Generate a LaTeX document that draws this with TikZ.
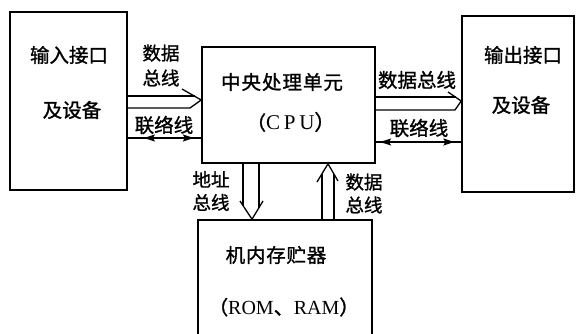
\documentclass[tikz,border=0pt]{standalone}
\usepackage{fontspec}
\setmainfont{Liberation Serif}
\newfontfamily\cjk[FakeBold=1.2]{Noto Sans CJK SC}
\usetikzlibrary{arrows.meta,calc}
\begin{document}
\begin{tikzpicture}[x=1pt,y=-1pt,
  box/.style={draw, line width=1.6pt, inner sep=0pt},
  lab/.style={font=\cjk\fontsize{19.5}{25}\selectfont, align=center, inner sep=0pt},
  bus/.style={line width=1.3pt, line join=miter},
  ctl/.style={line width=1.3pt},
  tip/.style={line width=1.3pt, -{Stealth[length=11pt,width=7pt,inset=2pt]}}]
\clip (0,0) rectangle (576,334);
% boxes
\node[box, minimum width=117pt, minimum height=178pt] (L) at (68.5,101) {};
\node[box, minimum width=173pt, minimum height=116pt] (C) at (288.5,105) {};
\node[box, minimum width=112pt, minimum height=176pt] (R) at (518,104) {};
\node[box, minimum width=174pt, minimum height=140pt] (M) at (285,290) {};
% box texts
\node[lab] (tL1) at (69,55) {输入接口};
\node[lab] (tL2) at (72,110) {及设备};
\node[lab] (tC1) at (282,82) {\addfontfeature{LetterSpace=5}中央处理单元};
\node[lab] (tC2) at (291,122) {（\rmfamily\fontsize{21}{25}\selectfont\addfontfeature{LetterSpace=18}CPU\cjk）};
\node[lab] (tR1) at (523,55) {输出接口};
\node[lab] (tR2) at (521,105) {及设备};
\node[lab] (tM1) at (276,255) {\addfontfeature{LetterSpace=4}机内存贮器};
\node[lab] (tM2) at (284,307) {（\rmfamily\fontsize{20}{25}\selectfont ROM\cjk 、\rmfamily RAM\cjk）};
% bus labels
\node[lab, font=\cjk\fontsize{18.5}{25}\selectfont] (tdb1) at (161,65.5) {数据\\总线};
\node[lab] (tlk1) at (164,125) {联络线};
\node[lab] (tdb2) at (417,80) {数据总线};
\node[lab] (tlk2) at (419,128) {联络线};
\node[lab, font=\cjk\fontsize{18.5}{23}\selectfont] (taddr) at (211,191) {地址\\总线};
\node[lab, font=\cjk\fontsize{18.5}{23}\selectfont] (tdb3) at (364,193.5) {数据\\总线};
% left data bus (hollow arrow L -> C)
\draw[bus] (L.east |- 0,96) -- (194.7,96);
\draw[bus] (182,89) -- (C.west |- 0,100) -- (190,108) -- (L.east |- 0,108);
% left contact line
\coordinate (a1) at (L.east |- 0,138);
\coordinate (b1) at (C.west |- 0,138);
\draw[ctl] (a1) -- (b1);
\draw[tip] ($(a1)!0.45!(b1)$) -- ($(a1)!0.22!(b1)$);
\draw[tip] ($(a1)!0.65!(b1)$) -- ($(a1)!0.9!(b1)$);
% right data bus (C -> R)
\draw[bus] (C.east |- 0,97) -- (455.8,97);
\draw[bus] (448,92) -- (R.west |- 0,101) -- (455,110) -- (C.east |- 0,110);
% right contact line
\coordinate (a2) at (C.east |- 0,142);
\coordinate (b2) at (R.west |- 0,142);
\draw[ctl] (a2) -- (b2);
\draw[tip] ($(a2)!0.3!(b2)$) -- ($(a2)!0.05!(b2)$);
\draw[tip] ($(a2)!0.7!(b2)$) -- ($(a2)!0.92!(b2)$);
% address bus (C -> M)
\draw[bus] (C.south -| 243,0) -- (243,205.75);
\draw[bus] (C.south -| 259,0) -- (259,207.9);
\draw[bus] (240,201) -- (M.north -| 252,0) -- (263,201);
% data bus (M -> C)
\draw[bus] (M.north -| 322,0) -- (322,173.8);
\draw[bus] (M.north -| 334,0) -- (334,174.2);
\draw[bus] (317,182) -- (C.south -| 328,0) -- (338,181);
\end{tikzpicture}
\end{document}
